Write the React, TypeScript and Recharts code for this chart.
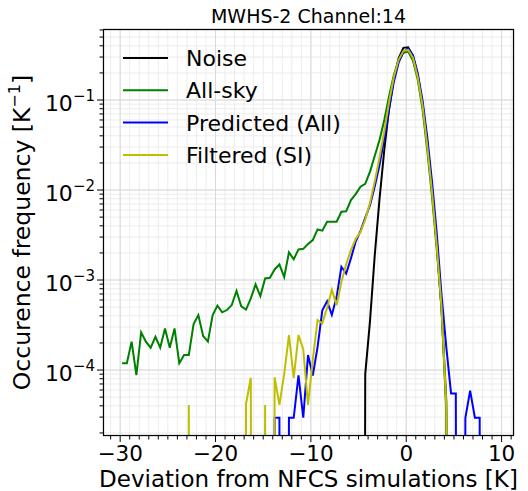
import { LineChart, Line, XAxis, YAxis, CartesianGrid, ReferenceLine } from 'recharts';

// bin centres [K]
const BINS = [
  -29.8, -29.3, -28.8, -28.3, -27.8, -27.3, -26.8, -26.3, -25.8, -25.3,
  -24.8, -24.3, -23.8, -23.3, -22.8, -22.3, -21.8, -21.3, -20.8, -20.3,
  -19.8, -19.3, -18.8, -18.3, -17.8, -17.3, -16.8, -16.3, -15.8, -15.3,
  -14.8, -14.3, -13.8, -13.3, -12.8, -12.3, -11.8, -11.3, -10.8, -10.3,
  -9.8, -9.3, -8.8, -8.3, -7.8, -7.3, -6.8, -6.3, -5.8, -5.3,
  -4.8, -4.3, -3.8, -3.3, -2.8, -2.3, -1.8, -1.3, -0.8, -0.3,
  0.2, 0.7, 1.2, 1.7, 2.2, 2.7, 3.2, 3.7, 4.2, 4.7,
  5.2, 5.7, 6.2, 6.7, 7.2, 7.7, 8.2,
];

// 0 = empty bin (drawn below the axis, as on a log plot)
const NOISE = [
  0, 0, 0, 0, 0, 0, 0, 0, 0, 0,
  0, 0, 0, 0, 0, 0, 0, 0, 0, 0,
  0, 0, 0, 0, 0, 0, 0, 0, 0, 0,
  0, 0, 0, 0, 0, 0, 0, 0, 0, 0,
  0, 0, 0, 0, 0, 0, 0, 0, 0, 0,
  0, 9e-5, 3.5e-4, 1.9e-3, 8e-3, 0.028, 0.08, 0.172, 0.29, 0.38,
  0.385, 0.31, 0.19, 0.092, 0.034, 0.0105, 2.5e-3, 4.8e-4, 4.5e-5, 0,
  0, 0, 0, 0, 0, 0, 0,
];

const ALL_SKY = [
  1.19e-4, 1.19e-4, 2.07e-4, 8.8e-5, 2.62e-4, 2.07e-4, 1.77e-4, 2.34e-4, 1.77e-4, 2.9e-4,
  1.77e-4, 2.9e-4, 1.19e-4, 1.47e-4, 1.47e-4, 3.24e-4, 4.08e-4, 2.39e-4, 2.07e-4, 4.08e-4,
  5.19e-4, 4.38e-4, 4.64e-4, 5.27e-4, 7.55e-4, 5.1e-4, 4.7e-4, 6.25e-4, 8.95e-4, 6.64e-4,
  1.04e-3, 1.06e-3, 1.31e-3, 1.49e-3, 1.08e-3, 2.03e-3, 1.7e-3, 2.19e-3, 2.22e-3, 2.51e-3,
  2.78e-3, 3.65e-3, 3.54e-3, 4.45e-3, 4.45e-3, 4.45e-3, 5.74e-3, 5.8e-3, 7.74e-3, 9.0e-3,
  1.09e-2, 1.17e-2, 1.6e-2, 2.4e-2, 3.6e-2, 0.06, 0.11, 0.19, 0.275, 0.335,
  0.345, 0.275, 0.17, 0.08, 0.028, 8.5e-3, 2.2e-3, 4.8e-4, 3.5e-5, 0,
  0, 0, 0, 0, 0, 0, 0,
];

const PREDICTED = [
  0, 0, 0, 0, 0, 0, 0, 0, 0, 0,
  0, 0, 0, 0, 0, 0, 0, 0, 0, 0,
  0, 0, 0, 0, 0, 0, 0, 0, 0, 0,
  0, 0, 2.95e-5, 2.95e-5, 0, 2.95e-5, 2.95e-5, 8.7e-5, 2.95e-5, 1.47e-4,
  8.7e-5, 1.8e-4, 4.6e-4, 5.8e-4, 4.1e-4, 6.5e-4, 1.4e-3, 1.18e-3, 1.74e-3, 2.68e-3,
  3.5e-3, 4.9e-3, 6.8e-3, 1.1e-2, 1.9e-2, 3.7e-2, 0.08, 0.16, 0.26, 0.34,
  0.375, 0.315, 0.2, 0.1, 0.039, 0.0125, 3.3e-3, 6.8e-4, 1.8e-4, 5.5e-5,
  5.5e-5, 0, 2.95e-5, 5.9e-5, 2.95e-5, 2.95e-5, 0,
];

const FILTERED = [
  0, 0, 0, 0, 0, 0, 0, 0, 0, 0,
  0, 0, 0, 0, 4.1e-5, 0, 0, 0, 0, 0,
  0, 0, 0, 0, 0, 0, 4.2e-5, 8.2e-5, 0, 0,
  4.1e-5, 0, 8.3e-5, 4.1e-5, 9e-5, 2.44e-4, 8.2e-5, 2.44e-4, 1.7e-4, 4.1e-5,
  1.3e-4, 3.6e-4, 3.3e-4, 4.9e-4, 7.8e-4, 5.25e-4, 9.5e-4, 1.5e-3, 2.15e-3, 2.87e-3,
  3.4e-3, 4.7e-3, 7.2e-3, 1.25e-2, 2.3e-2, 4.5e-2, 0.095, 0.18, 0.28, 0.35,
  0.36, 0.295, 0.18, 0.088, 0.031, 9.5e-3, 2.4e-3, 5.0e-4, 4.0e-5, 0,
  0, 0, 0, 0, 0, 0, 0,
];

const SERIES = [
  { key: 'noise', name: 'Noise', values: NOISE, color: '#000000' },
  { key: 'allsky', name: 'All-sky', values: ALL_SKY, color: '#008000' },
  { key: 'pred', name: 'Predicted (All)', values: PREDICTED, color: '#0000ff' },
  { key: 'filt', name: 'Filtered (SI)', values: FILTERED, color: '#bfbf00' },
];

const X_MAJOR = [-30, -20, -10, 0, 10];
const X_MINOR = [
  -31, -29, -28, -27, -26, -25, -24, -23, -22, -21,
  -19, -18, -17, -16, -15, -14, -13, -12, -11,
  -9, -8, -7, -6, -5, -4, -3, -2, -1,
  1, 2, 3, 4, 5, 6, 7, 8, 9, 11,
];
const Y_MAJOR = [1e-4, 1e-3, 1e-2, 1e-1];
const Y_EXP = ['\u22124', '\u22123', '\u22122', '\u22121'];
const Y_MINOR = [
  2e-5, 3e-5, 4e-5, 5e-5, 6e-5, 7e-5, 8e-5, 9e-5,
  2e-4, 3e-4, 4e-4, 5e-4, 6e-4, 7e-4, 8e-4, 9e-4,
  2e-3, 3e-3, 4e-3, 5e-3, 6e-3, 7e-3, 8e-3, 9e-3,
  2e-2, 3e-2, 4e-2, 5e-2, 6e-2, 7e-2, 8e-2, 9e-2,
  2e-1, 3e-1, 4e-1, 5e-1, 6e-1,
];

const FLOOR = 1e-30;
const W = 528;
const H = 491;
const PLOT_LEFT = 103;
const PLOT_TOP = 29;
const PLOT_RIGHT = 514;
const PLOT_BOTTOM = 436;
const FONT = '"DejaVu Sans", sans-serif';

const data = BINS.map((x, i) => {
  const row: Record<string, number> = { x };
  SERIES.forEach(s => { row[s.key] = s.values[i] > 0 ? s.values[i] : FLOOR; });
  return row;
});

const fmtX = (v: number) => (v < 0 ? `\u2212${-v}` : `${v}`);

const XTick = ({ x, payload }: any) => {
  const v = payload.value;
  const major = X_MAJOR.includes(v);
  return (
    <g>
      <line x1={x} x2={x} y1={PLOT_BOTTOM} y2={PLOT_BOTTOM + (major ? 6 : 3.5)} stroke="#000" strokeWidth={1} />
      {major && (
        <text x={x} y={PLOT_BOTTOM + 25} textAnchor="middle" fontSize={21.5} fontFamily={FONT} fill="#000">
          {fmtX(v)}
        </text>
      )}
    </g>
  );
};

const YTick = ({ y, payload }: any) => {
  const v = payload.value;
  const idx = Y_MAJOR.indexOf(v);
  const major = idx >= 0;
  return (
    <g>
      <line x1={PLOT_LEFT - (major ? 6 : 3.5)} x2={PLOT_LEFT} y1={y} y2={y} stroke="#000" strokeWidth={1} />
      {major && (
        <text x={95} y={y + 11} textAnchor="end" fontSize={22} fontFamily={FONT} fill="#000">
          10<tspan fontSize={15} dy={-10}>{Y_EXP[idx]}</tspan>
        </text>
      )}
    </g>
  );
};

export default function App() {
  return (
    <div style={{ position: 'absolute', left: 0, top: 0, width: W, height: H, background: '#fff' }}>
      <LineChart width={W} height={H} data={data} margin={{ top: PLOT_TOP, right: W - PLOT_RIGHT, bottom: 0, left: 0 }}>
        <CartesianGrid stroke="#ececec" strokeWidth={1} />
        {X_MAJOR.map(v => <ReferenceLine key={`vx${v}`} x={v} stroke="#d9d9d9" strokeWidth={1} />)}
        {Y_MAJOR.map(v => <ReferenceLine key={`hy${v}`} y={v} stroke="#d9d9d9" strokeWidth={1} />)}
        <XAxis
          type="number"
          dataKey="x"
          domain={[-31.8, 11.3]}
          allowDataOverflow
          ticks={[...X_MAJOR, ...X_MINOR]}
          interval={0}
          tick={<XTick />}
          tickLine={false}
          axisLine={false}
          height={H - PLOT_BOTTOM}
        />
        <YAxis
          type="number"
          scale="log"
          domain={[1.85e-5, 0.615]}
          allowDataOverflow
          ticks={[...Y_MAJOR, ...Y_MINOR]}
          interval={0}
          tick={<YTick />}
          tickLine={false}
          axisLine={false}
          width={PLOT_LEFT}
        />
        {SERIES.map(s => (
          <Line
            key={s.key}
            type="linear"
            dataKey={s.key}
            stroke={s.color}
            strokeWidth={2}
            dot={false}
            activeDot={false}
            isAnimationActive={false}
          />
        ))}
      </LineChart>
      <svg width={W} height={H} style={{ position: 'absolute', left: 0, top: 0, pointerEvents: 'none' }}>
        <rect
          x={PLOT_LEFT + 0.5}
          y={PLOT_TOP + 0.5}
          width={PLOT_RIGHT - PLOT_LEFT - 1}
          height={PLOT_BOTTOM - PLOT_TOP - 1}
          fill="none"
          stroke="#000"
          strokeWidth={1.2}
        />
        <text x={(PLOT_LEFT + PLOT_RIGHT) / 2} y={23} textAnchor="middle" fontSize={19} fontFamily={FONT} fill="#000">
          MWHS-2 Channel:14
        </text>
        <text x={(PLOT_LEFT + PLOT_RIGHT) / 2} y={487} textAnchor="middle" fontSize={23} fontFamily={FONT} fill="#000">
          Deviation from NFCS simulations [K]
        </text>
        <text
          transform={`translate(30, ${(PLOT_TOP + PLOT_BOTTOM) / 2}) rotate(-90)`}
          textAnchor="middle"
          fontSize={23.5}
          fontFamily={FONT}
          fill="#000"
        >
          Occurence frequency [K<tspan fontSize={16} dy={-10}>{'\u22121'}</tspan><tspan dy={10}>]</tspan>
        </text>
        {SERIES.map((s, i) => (
          <g key={s.key}>
            <line x1={123} x2={168} y1={58 + i * 32.3} y2={58 + i * 32.3} stroke={s.color} strokeWidth={2} />
            <text x={186} y={58 + i * 32.3 + 8} fontSize={22} fontFamily={FONT} fill="#000">
              {s.name}
            </text>
          </g>
        ))}
      </svg>
    </div>
  );
}
